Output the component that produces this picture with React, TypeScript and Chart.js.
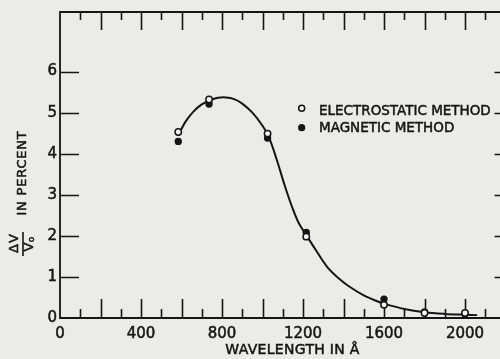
import React, { useEffect, useRef } from 'react';
import { Chart, registerables } from 'chart.js';

Chart.register(...registerables);

const INK = '#151515';
const BG = '#ebebe7';
const FONT = "'DejaVu Sans', sans-serif";

// measured wavelengths (Å)
const wavelengths = [584, 736, 1025, 1216, 1600, 1800, 2000];
// ΔV/V0 in percent
const electrostatic = [4.53, 5.32, 4.49, 1.98, 0.32, 0.12, 0.12];
const magnetic = [4.3, 5.21, 4.38, 2.08, 0.46, 0.15, 0.1];

// smooth fitted curve
const curveX = [584, 620, 660, 700, 740, 780, 820, 860, 900, 950, 1000, 1030, 1070, 1110, 1150, 1180, 1216, 1260, 1320, 1380, 1430, 1500, 1560, 1600, 1700, 1800, 1900, 2000, 2060];
const curveY = [4.45, 4.78, 5.03, 5.2, 5.3, 5.36, 5.37, 5.33, 5.22, 5.0, 4.68, 4.42, 3.86, 3.22, 2.65, 2.3, 2.02, 1.68, 1.24, 0.95, 0.76, 0.55, 0.42, 0.35, 0.22, 0.14, 0.1, 0.08, 0.07];

const xTickValues = [0, 100, 200, 300, 400, 500, 600, 700, 800, 900, 1000, 1100, 1200, 1300, 1400, 1500, 1600, 1700, 1800, 1900, 2000, 2100];
const xTickLabels = [0, 400, 800, 1200, 1600, 2000];
const yTickValues = [0, 1, 2, 3, 4, 5, 6];

const legendLabels = ['ELECTROSTATIC METHOD', 'MAGNETIC METHOD'];
const xTitle = 'WAVELENGTH IN Å';
const yTitle = 'IN PERCENT';

function boldText(ctx: any, text: string, x: number, y: number) {
  ctx.fillText(text, x, y);
  ctx.strokeText(text, x, y);
}

const framePlugin = {
  id: 'frame',
  beforeDraw(chart: any) {
    const { ctx, width, height } = chart;
    ctx.save();
    ctx.fillStyle = BG;
    ctx.fillRect(0, 0, width, height);
    ctx.restore();
  },
  beforeDatasetsDraw(chart: any) {
    const { ctx, chartArea: a, scales } = chart;
    const x = scales.x;
    const y = scales.y;
    const right = x.getPixelForValue(x.max);
    ctx.save();
    ctx.strokeStyle = INK;
    ctx.lineWidth = 1.8;
    ctx.beginPath();
    ctx.moveTo(right + 10, a.bottom);
    ctx.lineTo(a.left, a.bottom);
    ctx.lineTo(a.left, a.top);
    ctx.lineTo(right + 10, a.top);
    ctx.stroke();

    ctx.lineWidth = 1.6;
    ctx.beginPath();
    x.ticks.forEach((t: any) => {
      if (t.value <= 0) return;
      const px = Math.round(x.getPixelForValue(t.value)) + 0.5;
      const len = t.value % 200 === 0 ? 19 : 9;
      ctx.moveTo(px, a.top);
      ctx.lineTo(px, a.top + len - 1);
      ctx.moveTo(px, a.bottom);
      ctx.lineTo(px, a.bottom - len);
    });
    y.ticks.forEach((t: any) => {
      if (t.value <= 0) return;
      const py = Math.round(y.getPixelForValue(t.value)) + 0.5;
      ctx.moveTo(a.left, py);
      ctx.lineTo(a.left + 19, py);
      ctx.moveTo(right, py);
      ctx.lineTo(right - 9, py);
    });
    ctx.stroke();
    ctx.restore();
  },
  afterDraw(chart: any) {
    const { ctx } = chart;
    ctx.save();
    ctx.fillStyle = INK;
    ctx.strokeStyle = INK;
    ctx.lineWidth = 0.5;

    // legend
    ctx.font = `13.5px ${FONT}`;
    ctx.textAlign = 'left';
    ctx.textBaseline = 'alphabetic';
    boldText(ctx, legendLabels[0], 319, 115);
    boldText(ctx, legendLabels[1], 319, 132);
    ctx.lineWidth = 1.5;
    ctx.beginPath();
    ctx.arc(301.7, 108.3, 3, 0, Math.PI * 2);
    ctx.fillStyle = '#f8f8f6';
    ctx.fill();
    ctx.stroke();
    ctx.fillStyle = INK;
    ctx.beginPath();
    ctx.arc(301.7, 127.7, 3.6, 0, Math.PI * 2);
    ctx.fill();

    // x title
    ctx.lineWidth = 0.5;
    ctx.font = `14px ${FONT}`;
    (ctx as any).letterSpacing = '0.3px';
    ctx.textAlign = 'center';
    boldText(ctx, xTitle, 292.5, 353.5);

    // y title
    ctx.save();
    ctx.translate(22.5, 173);
    ctx.rotate(-Math.PI / 2);
    ctx.font = `13px ${FONT}`;
    (ctx as any).letterSpacing = '0.8px';
    ctx.textAlign = 'center';
    ctx.textBaseline = 'middle';
    boldText(ctx, yTitle, 0, 0);
    ctx.restore();

    // fraction ΔV / V0
    ctx.save();
    ctx.translate(23, 244);
    ctx.rotate(-Math.PI / 2);
    (ctx as any).letterSpacing = '1px';
    ctx.font = `13px ${FONT}`;
    ctx.textAlign = 'center';
    ctx.textBaseline = 'middle';
    boldText(ctx, 'ΔV', 1, -8);
    boldText(ctx, 'V', -2.5, 6.5);
    (ctx as any).letterSpacing = '0px';
    ctx.font = `9px ${FONT}`;
    boldText(ctx, 'o', 4.5, 8.5);
    ctx.lineWidth = 1.6;
    ctx.beginPath();
    ctx.moveTo(-12, 0);
    ctx.lineTo(12, 0);
    ctx.stroke();
    ctx.restore();

    ctx.restore();
  },
};

export default function App() {
  const ref = useRef<HTMLCanvasElement | null>(null);

  useEffect(() => {
    if (!ref.current) return;
    const chart = new Chart(ref.current, {
      type: 'scatter',
      data: {
        datasets: [
          {
            label: legendLabels[0],
            data: wavelengths.map((w, i) => ({ x: w, y: electrostatic[i] })),
            pointRadius: 3.2,
            pointBorderWidth: 1.5,
            pointBackgroundColor: '#f8f8f6',
            pointBorderColor: INK,
            order: 0,
          },
          {
            label: legendLabels[1],
            data: wavelengths.map((w, i) => ({ x: w, y: magnetic[i] })),
            pointRadius: 3.7,
            pointBorderWidth: 0,
            pointBackgroundColor: INK,
            pointBorderColor: INK,
            order: 1,
          },
          {
            label: 'fit',
            data: curveX.map((w, i) => ({ x: w, y: curveY[i] })),
            showLine: true,
            pointRadius: 0,
            borderColor: INK,
            borderWidth: 2,
            tension: 0.35,
            order: 2,
          } as any,
        ],
      },
      options: {
        animation: false,
        responsive: false,
        events: [],
        layout: { padding: { left: 8, top: 12, right: 11.5, bottom: 0 } },
        plugins: {
          legend: { display: false },
          tooltip: { enabled: false },
        },
        scales: {
          x: {
            type: 'linear',
            min: 0,
            max: 2190,
            grid: { display: false, drawTicks: false },
            border: { display: false },
            afterBuildTicks: (s: any) => {
              s.ticks = xTickValues.map((v) => ({ value: v }));
            },
            afterFit: (s: any) => {
              s.height = 41;
            },
            ticks: {
              autoSkip: false,
              maxRotation: 0,
              padding: 7,
              color: INK,
              textStrokeColor: INK,
              textStrokeWidth: 0.5,
              font: { family: FONT, size: 15 },
              callback: (v: any) => (xTickLabels.includes(Number(v)) ? String(v) : ''),
            },
          },
          y: {
            type: 'linear',
            min: 0,
            max: 7.45,
            grid: { display: false, drawTicks: false },
            border: { display: false },
            afterBuildTicks: (s: any) => {
              s.ticks = yTickValues.map((v) => ({ value: v }));
            },
            afterFit: (s: any) => {
              s.width = 52;
            },
            ticks: {
              autoSkip: false,
              padding: 3,
              color: INK,
              textStrokeColor: INK,
              textStrokeWidth: 0.5,
              font: { family: FONT, size: 15 },
              callback: (v: any) => String(v),
            },
          },
        },
      },
      plugins: [framePlugin],
    });
    return () => chart.destroy();
  }, []);

  return (
    <div style={{ position: 'fixed', left: 0, top: 0, width: 500, height: 359, overflow: 'hidden', background: BG }}>
      <canvas ref={ref} width={515} height={359} style={{ display: 'block', width: 515, height: 359 }} />
    </div>
  );
}
